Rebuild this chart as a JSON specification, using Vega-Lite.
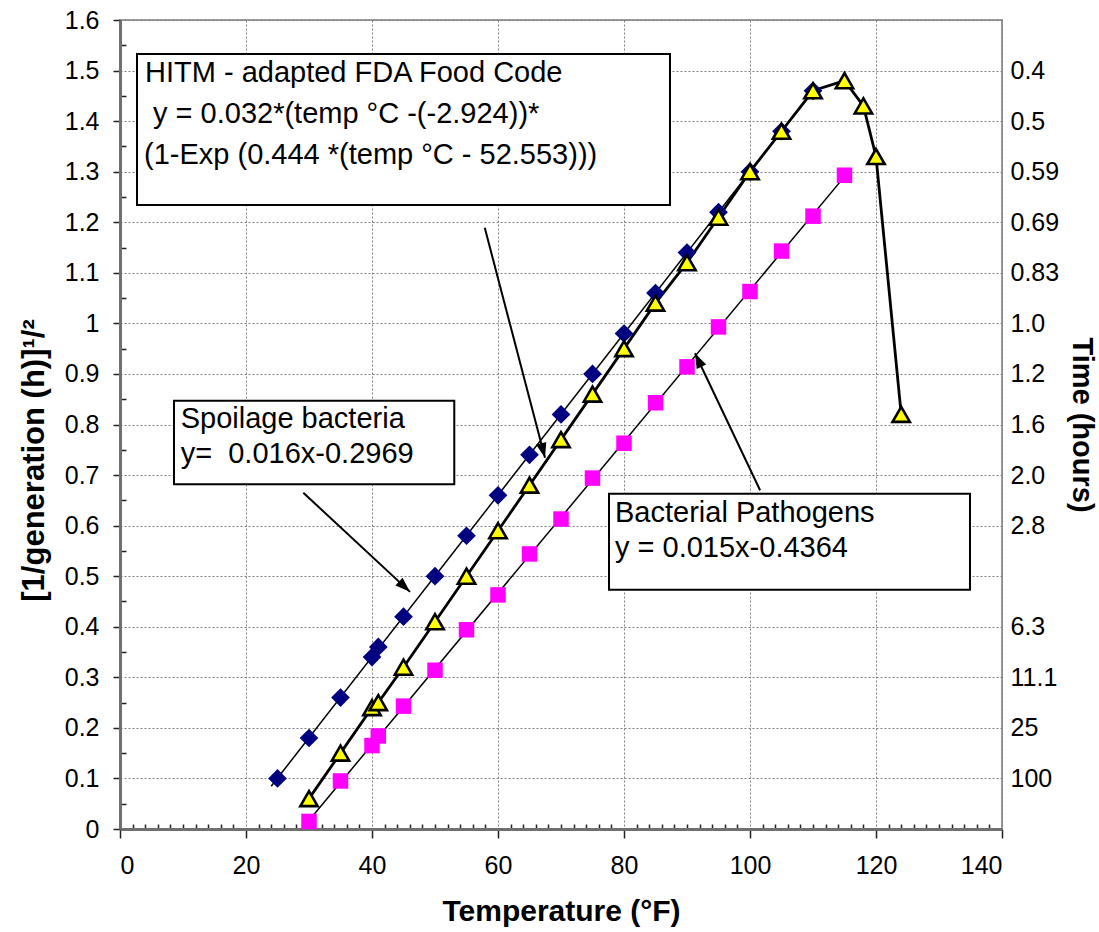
{
  "$schema": "https://vega.github.io/schema/vega-lite/v6.json",
  "width": 882,
  "height": 809,
  "autosize": {"type": "none"},
  "padding": {"left": 120, "top": 20, "right": 97, "bottom": 103},
  "background": "white",
  "config": {
    "font": "Liberation Sans",
    "view": {"stroke": "#9a9a9a", "strokeWidth": 2},
    "axis": {
      "labelFont": "Liberation Sans",
      "titleFont": "Liberation Sans",
      "labelColor": "#000000",
      "titleColor": "#000000",
      "labelFontSize": 25,
      "titleFontSize": 29,
      "titleFontWeight": "bold",
      "gridColor": "#808080",
      "gridDash": [2, 2],
      "gridWidth": 1,
      "tickColor": "#222222",
      "tickWidth": 1.5,
      "domainColor": "#707070",
      "domainWidth": 3
    }
  },
  "datasets": {
    "growth": [
      {"series": "Spoilage bacteria", "temp": 25, "rate": 0.10},
      {"series": "Spoilage bacteria", "temp": 30, "rate": 0.18},
      {"series": "Spoilage bacteria", "temp": 35, "rate": 0.26},
      {"series": "Spoilage bacteria", "temp": 40, "rate": 0.34},
      {"series": "Spoilage bacteria", "temp": 41, "rate": 0.36},
      {"series": "Spoilage bacteria", "temp": 45, "rate": 0.42},
      {"series": "Spoilage bacteria", "temp": 50, "rate": 0.50},
      {"series": "Spoilage bacteria", "temp": 55, "rate": 0.58},
      {"series": "Spoilage bacteria", "temp": 60, "rate": 0.66},
      {"series": "Spoilage bacteria", "temp": 65, "rate": 0.74},
      {"series": "Spoilage bacteria", "temp": 70, "rate": 0.82},
      {"series": "Spoilage bacteria", "temp": 75, "rate": 0.90},
      {"series": "Spoilage bacteria", "temp": 80, "rate": 0.98},
      {"series": "Spoilage bacteria", "temp": 85, "rate": 1.06},
      {"series": "Spoilage bacteria", "temp": 90, "rate": 1.14},
      {"series": "Spoilage bacteria", "temp": 95, "rate": 1.22},
      {"series": "Spoilage bacteria", "temp": 100, "rate": 1.30},
      {"series": "Spoilage bacteria", "temp": 105, "rate": 1.38},
      {"series": "Spoilage bacteria", "temp": 110, "rate": 1.46},
      {"series": "HITM", "temp": 30, "rate": 0.06},
      {"series": "HITM", "temp": 35, "rate": 0.15},
      {"series": "HITM", "temp": 40, "rate": 0.24},
      {"series": "HITM", "temp": 41, "rate": 0.25},
      {"series": "HITM", "temp": 45, "rate": 0.32},
      {"series": "HITM", "temp": 50, "rate": 0.41},
      {"series": "HITM", "temp": 55, "rate": 0.50},
      {"series": "HITM", "temp": 60, "rate": 0.59},
      {"series": "HITM", "temp": 65, "rate": 0.68},
      {"series": "HITM", "temp": 70, "rate": 0.77},
      {"series": "HITM", "temp": 75, "rate": 0.86},
      {"series": "HITM", "temp": 80, "rate": 0.95},
      {"series": "HITM", "temp": 85, "rate": 1.04},
      {"series": "HITM", "temp": 90, "rate": 1.12},
      {"series": "HITM", "temp": 95, "rate": 1.21},
      {"series": "HITM", "temp": 100, "rate": 1.30},
      {"series": "HITM", "temp": 105, "rate": 1.38},
      {"series": "HITM", "temp": 110, "rate": 1.46},
      {"series": "HITM", "temp": 115, "rate": 1.48},
      {"series": "HITM", "temp": 118, "rate": 1.43},
      {"series": "HITM", "temp": 120, "rate": 1.33},
      {"series": "HITM", "temp": 124, "rate": 0.82},
      {"series": "Bacterial Pathogens", "temp": 30, "rate": 0.015},
      {"series": "Bacterial Pathogens", "temp": 35, "rate": 0.095},
      {"series": "Bacterial Pathogens", "temp": 40, "rate": 0.165},
      {"series": "Bacterial Pathogens", "temp": 41, "rate": 0.184},
      {"series": "Bacterial Pathogens", "temp": 45, "rate": 0.243},
      {"series": "Bacterial Pathogens", "temp": 50, "rate": 0.314},
      {"series": "Bacterial Pathogens", "temp": 55, "rate": 0.394},
      {"series": "Bacterial Pathogens", "temp": 60, "rate": 0.463},
      {"series": "Bacterial Pathogens", "temp": 65, "rate": 0.544},
      {"series": "Bacterial Pathogens", "temp": 70, "rate": 0.613},
      {"series": "Bacterial Pathogens", "temp": 75, "rate": 0.694},
      {"series": "Bacterial Pathogens", "temp": 80, "rate": 0.763},
      {"series": "Bacterial Pathogens", "temp": 85, "rate": 0.843},
      {"series": "Bacterial Pathogens", "temp": 90, "rate": 0.914},
      {"series": "Bacterial Pathogens", "temp": 95, "rate": 0.993},
      {"series": "Bacterial Pathogens", "temp": 100, "rate": 1.063},
      {"series": "Bacterial Pathogens", "temp": 105, "rate": 1.143},
      {"series": "Bacterial Pathogens", "temp": 110, "rate": 1.212},
      {"series": "Bacterial Pathogens", "temp": 115, "rate": 1.293}
    ],
    "boxes": [
      {"box": "hitm", "x0": 2.7, "x1": 87.3, "y0": 1.234, "y1": 1.533},
      {"box": "spoilage", "x0": 8.57, "x1": 53.06, "y0": 0.682, "y1": 0.847},
      {"box": "pathogen", "x0": 77.62, "x1": 134.92, "y0": 0.473, "y1": 0.663}
    ],
    "notes": [
      {"t": "HITM - adapted FDA Food Code", "x": 3.97, "y": 1.478},
      {"t": "y = 0.032*(temp °C -(-2.924))*", "x": 5.24, "y": 1.397},
      {"t": "(1-Exp (0.444 *(temp °C - 52.553)))", "x": 3.81, "y": 1.315},
      {"t": "Spoilage bacteria", "x": 9.63, "y": 0.794},
      {"t": "y=\u00a0 0.016x-0.2969", "x": 9.63, "y": 0.723},
      {"t": "Bacterial Pathogens", "x": 78.57, "y": 0.608},
      {"t": "y = 0.015x-0.4364", "x": 78.57, "y": 0.5386}
    ],
    "arrows": [
      {"arrow": "hitm", "x0": 57.9, "y0": 1.189, "x1": 67.46, "y1": 0.734},
      {"arrow": "spoilage", "x0": 29.1, "y0": 0.665, "x1": 46.03, "y1": 0.469},
      {"arrow": "pathogen", "x0": 101.6, "y0": 0.670, "x1": 91.27, "y1": 0.941}
    ]
  },
  "resolve": {"axis": {"x": "independent", "y": "independent"}},
  "layer": [
    {
      "data": {"name": "growth"},
      "transform": [
        {"filter": "datum.series == 'Bacterial Pathogens'"},
        {"regression": "rate", "on": "temp", "extent": [29, 114.5]}
      ],
      "mark": {"type": "line", "color": "#000000", "strokeWidth": 1.5},
      "encoding": {
        "x": {"field": "temp", "type": "quantitative", "scale": {"domain": [0, 140], "nice": false},
          "axis": {"orient": "bottom", "values": [2,4,6,8,10,12,14,16,18,22,24,26,28,30,32,34,36,38,42,44,46,48,50,52,54,56,58,62,64,66,68,70,72,74,76,78,82,84,86,88,90,92,94,96,98,102,104,106,108,110,112,114,116,118,122,124,126,128,130,132,134,136,138],
            "tickSize": -5, "labels": false, "domain": false, "grid": false, "title": null}},
        "y": {"field": "rate", "type": "quantitative", "scale": {"domain": [0, 1.6], "nice": false},
          "axis": {"orient": "left", "values": [0.05,0.15,0.25,0.35,0.45,0.55,0.65,0.75,0.85,0.95,1.05,1.15,1.25,1.35,1.45,1.55],
            "tickSize": -6, "labels": false, "domain": false, "grid": false, "title": null}}
      }
    },
    {
      "data": {"name": "growth"},
      "transform": [
        {"filter": "datum.series == 'Spoilage bacteria'"},
        {"regression": "rate", "on": "temp", "extent": [24, 110]}
      ],
      "mark": {"type": "line", "color": "#000000", "strokeWidth": 1.5},
      "encoding": {
        "x": {"field": "temp", "type": "quantitative", "scale": {"domain": [0, 140], "nice": false},
          "axis": {"orient": "bottom", "values": [0,20,40,60,80,100,120,140], "grid": true, "tickSize": 9, "labelPadding": 15,
            "title": "Temperature (°F)", "titlePadding": 18, "titleFontSize": 30}},
        "y": {"field": "rate", "type": "quantitative", "scale": {"domain": [0, 1.6], "nice": false},
          "axis": {"orient": "left", "values": [0,0.1,0.2,0.3,0.4,0.5,0.6,0.7,0.8,0.9,1,1.1,1.2,1.3,1.4,1.5,1.6], "format": "~g",
            "grid": true, "tickSize": 7, "labelPadding": 14, "title": "[1/generation (h)]¹/²", "titleFontSize": 31,
            "titleY": 440, "titlePadding": 14}}
      }
    },
    {
      "data": {"name": "growth"},
      "transform": [{"filter": "datum.series == 'HITM'"}],
      "mark": {"type": "line", "color": "#000000", "strokeWidth": 2.8},
      "encoding": {
        "x": {"field": "temp", "type": "quantitative", "scale": {"domain": [0, 140], "nice": false}, "axis": null},
        "y": {"field": "rate", "type": "quantitative", "scale": {"domain": [0, 1.6], "nice": false},
          "axis": {"orient": "right", "values": [0.1,0.2,0.3,0.4,0.6,0.7,0.8,0.9,1,1.1,1.2,1.3,1.4,1.5],
            "labelExpr": "['', '100', '25', '11.1', '6.3', '', '2.8', '2.0', '1.6', '1.2', '1.0', '0.83', '0.69', '0.59', '0.5', '0.4'][round(datum.value * 10)]",
            "ticks": false, "tickSize": 0, "domain": false, "grid": false, "labelPadding": 8, "labelAlign": "left",
            "title": "Time (hours)", "titlePadding": 8}}
      }
    },
    {
      "data": {"name": "growth"},
      "transform": [{"filter": "datum.series == 'Spoilage bacteria'"}],
      "mark": {"type": "point", "shape": "diamond", "filled": true, "color": "#000080", "opacity": 1, "size": 350},
      "encoding": {
        "x": {"field": "temp", "type": "quantitative", "scale": {"domain": [0, 140], "nice": false}, "axis": null},
        "y": {"field": "rate", "type": "quantitative", "scale": {"domain": [0, 1.6], "nice": false}, "axis": null}
      }
    },
    {
      "data": {"name": "growth"},
      "transform": [{"filter": "datum.series == 'Bacterial Pathogens'"}],
      "mark": {"type": "point", "shape": "square", "filled": true, "color": "#FF00FF", "opacity": 1, "size": 240},
      "encoding": {
        "x": {"field": "temp", "type": "quantitative", "scale": {"domain": [0, 140], "nice": false}, "axis": null},
        "y": {"field": "rate", "type": "quantitative", "scale": {"domain": [0, 1.6], "nice": false}, "axis": null}
      }
    },
    {
      "data": {"name": "growth"},
      "transform": [{"filter": "datum.series == 'HITM'"}],
      "mark": {"type": "point", "shape": "triangle-up", "filled": true, "fill": "#FFFF00", "stroke": "#000000", "strokeWidth": 2.6, "opacity": 1, "size": 300},
      "encoding": {
        "x": {"field": "temp", "type": "quantitative", "scale": {"domain": [0, 140], "nice": false}, "axis": null},
        "y": {"field": "rate", "type": "quantitative", "scale": {"domain": [0, 1.6], "nice": false}, "axis": null}
      }
    },
    {
      "data": {"name": "boxes"},
      "mark": {"type": "rect", "fill": "#FFFFFF", "stroke": "#000000", "strokeWidth": 2},
      "encoding": {
        "x": {"field": "x0", "type": "quantitative", "scale": {"domain": [0, 140], "nice": false}, "axis": null},
        "x2": {"field": "x1"},
        "y": {"field": "y0", "type": "quantitative", "scale": {"domain": [0, 1.6], "nice": false}, "axis": null},
        "y2": {"field": "y1"}
      }
    },
    {
      "data": {"name": "notes"},
      "mark": {"type": "text", "align": "left", "baseline": "alphabetic", "fontSize": 29, "font": "Liberation Sans", "color": "#000000"},
      "encoding": {
        "x": {"field": "x", "type": "quantitative", "scale": {"domain": [0, 140], "nice": false}, "axis": null},
        "y": {"field": "y", "type": "quantitative", "scale": {"domain": [0, 1.6], "nice": false}, "axis": null},
        "text": {"field": "t"}
      }
    },
    {
      "data": {"name": "arrows"},
      "mark": {"type": "rule", "color": "#000000", "strokeWidth": 2},
      "encoding": {
        "x": {"field": "x0", "type": "quantitative", "scale": {"domain": [0, 140], "nice": false}, "axis": null},
        "y": {"field": "y0", "type": "quantitative", "scale": {"domain": [0, 1.6], "nice": false}, "axis": null},
        "x2": {"field": "x1"},
        "y2": {"field": "y1"}
      }
    },
    {
      "data": {"name": "arrows"},
      "transform": [{"filter": "datum.arrow == 'hitm'"}],
      "mark": {"type": "point", "shape": "M0,0L-0.7,2L0.7,2Z", "angle": 165.4, "filled": true, "color": "#000000", "opacity": 1, "size": 225},
      "encoding": {
        "x": {"field": "x1", "type": "quantitative", "scale": {"domain": [0, 140], "nice": false}, "axis": null},
        "y": {"field": "y1", "type": "quantitative", "scale": {"domain": [0, 1.6], "nice": false}, "axis": null}
      }
    },
    {
      "data": {"name": "arrows"},
      "transform": [{"filter": "datum.arrow == 'spoilage'"}],
      "mark": {"type": "point", "shape": "M0,0L-0.7,2L0.7,2Z", "angle": 132.8, "filled": true, "color": "#000000", "opacity": 1, "size": 225},
      "encoding": {
        "x": {"field": "x1", "type": "quantitative", "scale": {"domain": [0, 140], "nice": false}, "axis": null},
        "y": {"field": "y1", "type": "quantitative", "scale": {"domain": [0, 1.6], "nice": false}, "axis": null}
      }
    },
    {
      "data": {"name": "arrows"},
      "transform": [{"filter": "datum.arrow == 'pathogen'"}],
      "mark": {"type": "point", "shape": "M0,0L-0.7,2L0.7,2Z", "angle": -25.4, "filled": true, "color": "#000000", "opacity": 1, "size": 225},
      "encoding": {
        "x": {"field": "x1", "type": "quantitative", "scale": {"domain": [0, 140], "nice": false}, "axis": null},
        "y": {"field": "y1", "type": "quantitative", "scale": {"domain": [0, 1.6], "nice": false}, "axis": null}
      }
    }
  ]
}
